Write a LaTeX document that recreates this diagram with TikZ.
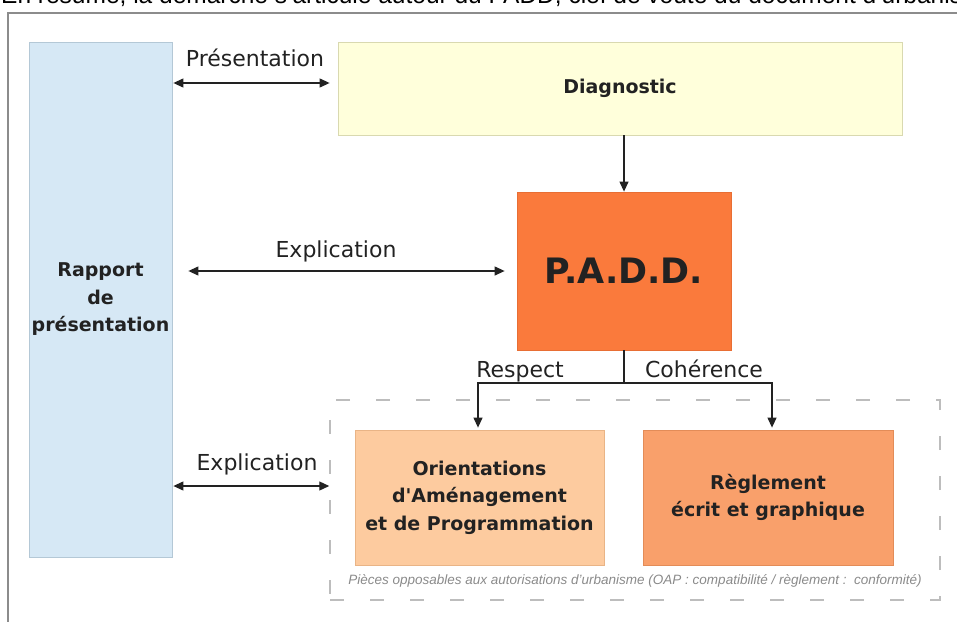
\documentclass[tikz,border=0pt]{standalone}
\usepackage{fontspec}
\setmainfont{Liberation Sans}
\newfontfamily\boxfont{DejaVu Sans}
\newfontfamily\handfont{DejaVu Sans}
\usetikzlibrary{arrows.meta}
\definecolor{frameC}{HTML}{8C8C8C}
\definecolor{rapF}{HTML}{D6E8F5}
\definecolor{rapD}{HTML}{B4C8D6}
\definecolor{diaF}{HTML}{FFFFDB}
\definecolor{diaD}{HTML}{D9D9B0}
\definecolor{padF}{HTML}{FA7A3C}
\definecolor{padD}{HTML}{E86E34}
\definecolor{oapF}{HTML}{FDCB9F}
\definecolor{oapD}{HTML}{E9B486}
\definecolor{regF}{HTML}{F9A06B}
\definecolor{regD}{HTML}{E38C58}
\definecolor{txt}{HTML}{222222}
\definecolor{dashC}{HTML}{BDBDBD}
\definecolor{capC}{HTML}{8A8A8A}
\begin{document}
\begin{tikzpicture}[x=1pt,y=-1pt,
  box/.style={draw, line width=0.8pt, align=center, inner sep=0pt,
    font=\boxfont\bfseries\fontsize{19}{27.5}\selectfont, text=txt},
  lbl/.style={font=\handfont\fontsize{22}{24}\selectfont, text=txt, inner sep=0pt, anchor=base},
  dbl/.style={{Triangle[length=10pt,width=9pt]}-{Triangle[length=10pt,width=9pt]}, line width=1.2pt, draw=txt},
  arr/.style={-{Triangle[length=10pt,width=9pt]}, line width=1.2pt, draw=txt},
  link/.style={line width=1.2pt, draw=txt},
]
\useasboundingbox (0,0) rectangle (957,621);
% page text cut at the top
\node[anchor=base west, inner sep=0pt, font=\fontsize{24.5}{27}\selectfont, text=black] (title) at (1,4)
  {En résumé, la démarche s'articule autour du PADD, clef de voûte du document d'urbanisme};
% frame
\draw[frameC, line width=2pt] (8,630) -- (8,13) -- (970,13);

% boxes
\node[box, fill=rapF, draw=rapD, minimum width=143, minimum height=515] (rap) at (100.5,299.5)
  {Rapport\\de\\présentation};
\node[box, fill=diaF, draw=diaD, minimum width=564, minimum height=93] (diag) at (620,88.5)
  {Diagnostic};
\node[box, fill=padF, draw=padD, minimum width=214, minimum height=158,
  font=\boxfont\bfseries\fontsize{35}{40}\selectfont] (padd) at (624,271) {P.A.D.D.};
\node[draw=dashC, dash pattern=on 14pt off 26pt, line width=1.5pt, inner sep=0pt,
  minimum width=610, minimum height=200] (opp) at (635,500) {};
\node[box, fill=oapF, draw=oapD, minimum width=249, minimum height=135] (oap) at (479.5,497.5)
  {Orientations\\d'Aménagement\\et de Programmation};
\node[box, fill=regF, draw=regD, minimum width=250, minimum height=135] (reg) at (768,497.5)
  {Règlement\\écrit et graphique};
\node[font=\itshape\fontsize{13.5}{15}\selectfont, text=capC, inner sep=0pt] (cap) at (635,581)
  {Pièces opposables aux autorisations d'urbanisme (OAP : compatibilité / règlement :\ \ conformité)};

% connectors
\draw[dbl] ([xshift=1]rap.east |- 0,83) -- ([xshift=-8]diag.west |- 0,83);
\node[lbl] (lpres) at (255,66) {Présentation};
\draw[arr] (diag.south -| padd.north) -- (padd.north);
\draw[dbl] ([xshift=16]rap.east |- padd.west) -- ([xshift=-12]padd.west);
\node[lbl] (lexp1) at (336,257) {Explication};
\draw[dbl] ([xshift=1]rap.east |- 0,486) -- (opp.west |- 0,486);
\node[lbl] (lexp2) at (257,470) {Explication};
\coordinate (j) at (padd.south |- 0,383);
\draw[link] (padd.south) -- (j);
\draw[arr, shorten >=2pt] (j) -| ([xshift=-1.5]oap.north);
\draw[arr, shorten >=2pt] (j) -| ([xshift=4]reg.north);
\node[lbl] (lres) at (520,377) {Respect};
\node[lbl] (lcoh) at (704,377) {Cohérence};
\end{tikzpicture}
\end{document}
